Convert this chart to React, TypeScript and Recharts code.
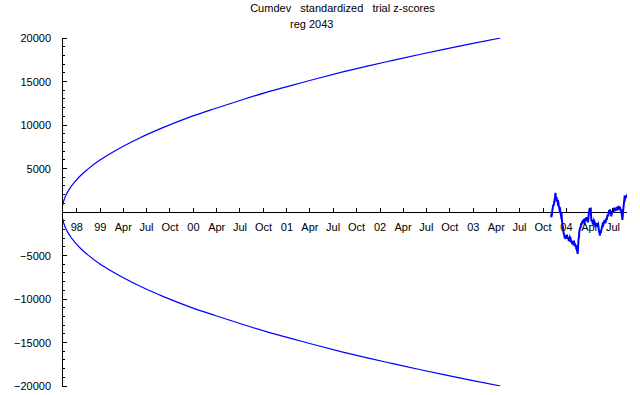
import React from 'react';
import { LineChart, Line, XAxis, YAxis, ReferenceLine } from 'recharts';

const W = 640;
const H = 395;
const M = { top: 38, right: 13, bottom: 0, left: 0 };
const X_AXIS_H = 9;
const Y_AXIS_W = 62;
const ZERO_Y = M.top + (H - M.top - M.bottom - X_AXIS_H) / 2;
const FONT = "'Liberation Sans', Arial, sans-serif";

// x axis: days since 4 Aug 1998
const tickDays = [58, 150, 240, 331, 423, 515, 606, 697, 789, 881, 971, 1062, 1154, 1246, 1336, 1427, 1519, 1611, 1701, 1792, 1884, 1976, 2067, 2158];
const tickLabels = ['98', '99', 'Apr', 'Jul', 'Oct', '00', 'Apr', 'Jul', 'Oct', '01', 'Apr', 'Jul', 'Oct', '02', 'Apr', 'Jul', 'Oct', '03', 'Apr', 'Jul', 'Oct', '04', 'Apr', 'Jul'];

const yTicks = [-20000, -19000, -18000, -17000, -16000, -15000, -14000, -13000, -12000, -11000, -10000, -9000, -8000, -7000, -6000, -5000, -4000, -3000, -2000, -1000, 0, 1000, 2000, 3000, 4000, 5000, 6000, 7000, 8000, 9000, 10000, 11000, 12000, 13000, 14000, 15000, 16000, 17000, 18000, 19000, 20000];
const yLabels = ['\u221220000', '', '', '', '', '\u221215000', '', '', '', '', '\u221210000', '', '', '', '', '\u22125000', '', '', '', '', '', '', '', '', '', '5000', '', '', '', '', '10000', '', '', '', '', '15000', '', '', '', '', '20000'];

// envelope
const envDays = [0, 2, 5, 10, 20, 35, 50, 75, 100, 150, 200, 300, 400, 500, 600, 700, 800, 900, 1000, 1100, 1200, 1300, 1400, 1500, 1600, 1718];
const envUpper = [0, 700, 1100, 1550, 2200, 2900, 3450, 4250, 4900, 6000, 6900, 8450, 9750, 10900, 11900, 12850, 13750, 14550, 15350, 16100, 16800, 17450, 18100, 18720, 19320, 20000];
const envLower = [0, -700, -1100, -1550, -2200, -2900, -3450, -4250, -4900, -6000, -6900, -8450, -9750, -10900, -11900, -12850, -13750, -14550, -15350, -16100, -16800, -17450, -18100, -18720, -19320, -20000];

// cumulative deviation
const walkDays = [1916, 1917, 1918, 1920, 1922, 1924, 1926, 1928, 1929, 1931, 1933, 1934, 1936, 1937, 1939, 1941, 1942, 1944, 1946, 1947, 1949, 1951, 1953, 1955, 1957, 1958, 1960, 1962, 1963, 1965, 1967, 1969, 1970, 1972, 1974, 1976, 1978, 1980, 1982, 1985, 1987, 1989, 1990, 1992, 1994, 1996, 1998, 2000, 2002, 2005, 2007, 2009, 2011, 2013, 2014, 2016, 2018, 2020, 2021, 2023, 2025, 2026, 2028, 2030, 2032, 2033, 2035, 2037, 2039, 2041, 2043, 2045, 2047, 2048, 2050, 2052, 2054, 2056, 2058, 2060, 2061, 2063, 2065, 2067, 2069, 2071, 2072, 2073, 2075, 2077, 2079, 2080, 2082, 2084, 2087, 2089, 2091, 2094, 2096, 2098, 2100, 2102, 2104, 2106, 2107, 2109, 2111, 2112, 2114, 2116, 2117, 2119, 2121, 2123, 2125, 2127, 2129, 2130, 2132, 2134, 2135, 2137, 2139, 2141, 2143, 2145, 2146, 2148, 2150, 2151, 2153, 2155, 2156, 2158, 2160, 2161, 2163, 2165, 2166, 2168, 2170, 2172, 2174, 2176, 2178, 2180, 2182, 2185, 2187, 2189, 2190, 2192, 2194, 2195, 2197, 2199, 2201, 2203, 2205, 2207, 2208, 2210, 2211];
const walkValues = [-600, -200, -500, 100, 400, 850, 700, 1300, 1100, 1700, 2200, 1800, 1500, 1700, 1200, 1400, 1000, 1100, 700, 600, 200, 300, -100, -500, -400, -900, -1400, -1700, -2000, -2500, -2600, -3000, -2800, -3100, -2700, -2900, -2600, -3100, -2900, -3300, -3000, -3400, -2900, -3000, -3500, -3300, -3700, -3400, -3600, -3300, -3800, -3600, -4000, -3800, -4200, -4300, -4500, -4800, -4200, -3200, -2800, -2300, -2000, -1800, -1700, -1300, -1500, -1100, -1300, -900, -1200, -800, -1300, -1000, -700, -1000, -600, -900, -700, -1200, -1000, -300, 100, 400, 0, 500, -300, -800, -1100, -900, -1400, -1200, -1500, -1000, -1200, -1700, -1300, -1600, -1300, -1500, -1400, -1900, -2300, -2500, -2700, -2200, -2400, -2100, -1900, -1600, -1500, -1200, -1400, -1200, -900, -1300, -1100, -1200, -700, -900, -600, -300, -500, -100, 200, 0, 300, -200, 100, -500, -200, 100, -100, 300, -100, 200, 500, 200, 500, 100, 400, 200, 600, 200, 400, 700, 300, 600, 300, 100, 300, -200, -600, -900, -200, 500, 1000, 1600, 1500, 1900, 1700, 1800, 1600];

const envelope = envDays.map((d, i) => ({ day: d, upper: envUpper[i], lower: envLower[i] }));
const walk = walkDays.map((d, i) => ({ day: d, cum: walkValues[i] }));

const XTick = (props: any) => {
  const { x, payload } = props;
  const idx = tickDays.indexOf(payload.value);
  return (
    <g>
      <line x1={x} x2={x} y1={ZERO_Y - 4} y2={ZERO_Y} stroke="#000" shapeRendering="crispEdges" />
      <text x={x} y={ZERO_Y + 19} textAnchor="middle" fontSize={11} fontFamily={FONT} fill="#000">
        {tickLabels[idx]}
      </text>
    </g>
  );
};

const YTick = (props: any) => {
  const { y, payload } = props;
  const idx = yTicks.indexOf(payload.value);
  const label = yLabels[idx];
  const major = payload.value % 5000 === 0;
  return (
    <g>
      <line x1={Y_AXIS_W} x2={Y_AXIS_W + (major ? 5 : 3)} y1={y} y2={y} stroke="#000" shapeRendering="crispEdges" />
      {label ? (
        <text x={Y_AXIS_W - 11} y={y + 4} textAnchor="end" fontSize={11} fontFamily={FONT} fill="#000">
          {label}
        </text>
      ) : null}
    </g>
  );
};

export default function App() {
  return (
    <div style={{ position: 'absolute', left: 0, top: 0, width: W, height: H, background: '#fff' }}>
      <LineChart width={W} height={H} margin={M}>
        <XAxis
          dataKey="day"
          type="number"
          domain={[0, 2213]}
          ticks={tickDays}
          interval={0}
          axisLine={false}
          tickLine={false}
          height={X_AXIS_H}
          tick={<XTick />}
          allowDataOverflow
        />
        <YAxis
          type="number"
          domain={[-20000, 20000]}
          ticks={yTicks}
          interval={0}
          width={Y_AXIS_W}
          axisLine={{ stroke: '#000', shapeRendering: 'crispEdges' } as any}
          tickLine={false}
          tick={<YTick />}
          allowDataOverflow
        />
        <ReferenceLine y={0} stroke="#000" shapeRendering="crispEdges" />
        <Line data={envelope} dataKey="upper" type="monotone" stroke="#0000ff" strokeWidth={1.2} dot={false} isAnimationActive={false} />
        <Line data={envelope} dataKey="lower" type="monotone" stroke="#0000ff" strokeWidth={1.2} dot={false} isAnimationActive={false} />
        <Line data={walk} dataKey="cum" type="linear" stroke="#0000ff" strokeWidth={2} dot={false} isAnimationActive={false} />
      </LineChart>
      <svg width={W} height={H} style={{ position: 'absolute', left: 0, top: 0, pointerEvents: 'none' }}>
        <text x={342.5} y={12} textAnchor="middle" fontSize={11} fontFamily={FONT} fill="#000" style={{ whiteSpace: 'pre' }}>
          {'Cumdev   standardized   trial z-scores'}
        </text>
        <text x={290} y={28} textAnchor="start" fontSize={11} fontFamily={FONT} fill="#000">
          reg 2043
        </text>
      </svg>
    </div>
  );
}
